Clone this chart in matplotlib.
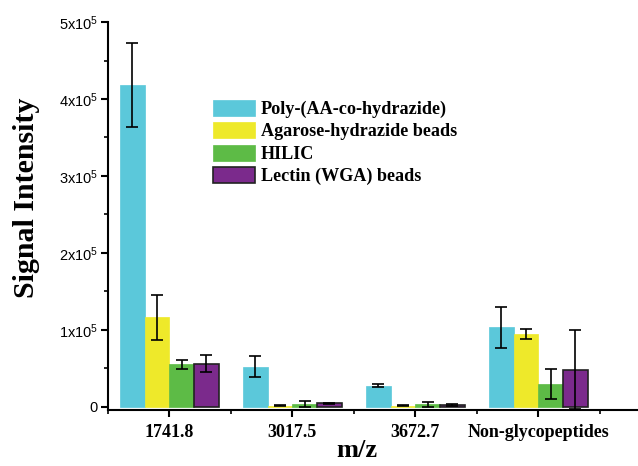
import matplotlib
matplotlib.use("Agg")
import matplotlib.pyplot as plt
import numpy as np
from matplotlib.ticker import FixedLocator, FixedFormatter, MultipleLocator

categories = ["1741.8", "3017.5", "3672.7", "Non-glycopeptides"]
series = ["Poly-(AA-co-hydrazide)", "Agarose-hydrazide beads", "HILIC", "Lectin (WGA) beads"]
poly = [4.18e5, 0.52e5, 0.27e5, 1.03e5]
poly_err = [0.55e5, 0.14e5, 0.02e5, 0.27e5]
agarose = [1.16e5, 0.012e5, 0.012e5, 0.95e5]
agarose_err = [0.29e5, 0.003e5, 0.003e5, 0.065e5]
hilic = [0.55e5, 0.03e5, 0.03e5, 0.295e5]
hilic_err = [0.055e5, 0.04e5, 0.03e5, 0.20e5]
lectin = [0.56e5, 0.044e5, 0.02e5, 0.48e5]
lectin_err = [0.115e5, 0.005e5, 0.01e5, 0.51e5]
colors = ["#5BC8DA", "#EEE92A", "#5DBB46", "#7B2A8C"]
edges = ["#5BC8DA", "#EEE92A", "#5DBB46", "#222222"]
ytick_vals = [0, 1e5, 2e5, 3e5, 4e5, 5e5]
ytick_labels = ["0", "1x10$^5$", "2x10$^5$", "3x10$^5$", "4x10$^5$", "5x10$^5$"]

plt.rcParams["mathtext.default"] = "regular"
fig = plt.figure(figsize=(6.38, 4.66), dpi=100)
ax = fig.add_axes([0.169, 0.12, 0.831, 0.8326])

x = np.arange(1, len(categories) + 1)
w = 0.2
vals = [poly, agarose, hilic, lectin]
errs = [poly_err, agarose_err, hilic_err, lectin_err]
for i, (v, e) in enumerate(zip(vals, errs)):
    pos = x + (i - 1.5) * w
    ax.bar(pos, v, width=w, color=colors[i], edgecolor=edges[i], linewidth=1.2 if i == 3 else 0.5,
           label=series[i], zorder=2)
    ax.errorbar(pos, v, yerr=e, fmt="none", ecolor="black", elinewidth=1.2, capsize=4,
                capthick=1.2, zorder=3)

ax.set_xlim(0.5, 4.81)
ax.set_ylim(-0.045e5, 5e5)
ax.spines["top"].set_visible(False)
ax.spines["right"].set_visible(False)
for s in ["left", "bottom"]:
    ax.spines[s].set_linewidth(1.5)

ax.yaxis.set_major_locator(FixedLocator(ytick_vals))
ax.yaxis.set_major_formatter(FixedFormatter(ytick_labels))
ax.yaxis.set_minor_locator(MultipleLocator(0.5e5))
ax.set_xticks(x)
ax.set_xticklabels(categories, fontfamily="Liberation Serif", fontweight="bold", fontsize=13)
ax.xaxis.set_minor_locator(FixedLocator(list(x - 0.5) + [4.5]))
ax.tick_params(axis="both", which="major", direction="out", length=5, width=1.5)
ax.tick_params(axis="both", which="minor", direction="out", length=3, width=1.2)
ax.tick_params(axis="y", labelsize=10.5, pad=2)
ax.tick_params(axis="x", pad=5)
for t in ax.get_yticklabels():
    t.set_fontfamily("Liberation Sans")

ax.set_ylabel("Signal Intensity", fontfamily="Liberation Serif", fontweight="bold", fontsize=21.5)
ax.yaxis.set_label_coords(-0.127, 0.546)
ax.set_xlabel("m/z", fontfamily="Liberation Serif", fontweight="bold", fontsize=19, labelpad=-2)
ax.xaxis.set_label_coords(0.47, -0.075)

leg = ax.legend(loc="upper left", bbox_to_anchor=(0.199, 0.80), frameon=False,
                prop={"family": "Liberation Serif", "weight": "bold", "size": 13.1},
                handlelength=2.3, handleheight=1.0, labelspacing=0.22, handletextpad=0.3,
                borderpad=0, borderaxespad=0)

fig.savefig("out.png", dpi=100)
